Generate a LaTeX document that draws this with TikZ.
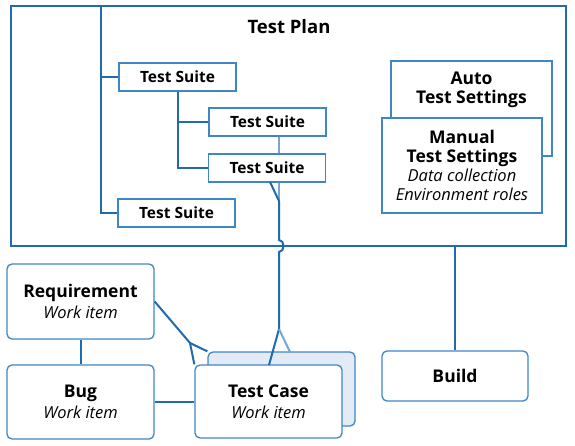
\documentclass[tikz,border=0pt]{standalone}
\usepackage{fontspec}
\setmainfont{Open Sans}
\usepackage{tikz}
\definecolor{planblue}{HTML}{1F6BAE}
\definecolor{boxblue}{HTML}{3F86C6}
\definecolor{faintblue}{HTML}{74A6D6}
\definecolor{shadowfill}{HTML}{E3EBF6}

\begin{document}
\begin{tikzpicture}[x=1pt,y=-1pt,
	planbox/.style={draw=planblue, line width=2.5pt, minimum width=555, minimum height=240},
	suitebox/.style={align=center, draw=boxblue, line width=1.3pt, fill=white, minimum width=117, minimum height=28, font=\fontsize{15.5}{18}\selectfont\bfseries},
	setbox/.style={align=center, draw=boxblue, line width=1.3pt, fill=white, minimum width=160, minimum height=95, font=\fontsize{17.5}{19}\selectfont},
	itembox/.style={align=center, draw=boxblue, line width=1.3pt, fill=white, rounded corners=5pt, minimum width=147, minimum height=74, font=\fontsize{17.5}{21}\selectfont},
	link/.style={draw=planblue, line width=2pt},
	faint/.style={draw=faintblue, line width=2pt},
	]
	\useasboundingbox (0,0) rectangle (575,446);
	% test plan
	\node[planbox] at (288.5, 126) (plan) {};
	\node[font=\fontsize{18.5}{21}\selectfont\bfseries] at (289, 27) (plantitle) {Test Plan};
	\node[suitebox] at (177.5, 77) (suiteA) {Test Suite};
	\node[suitebox] at (267.5, 122) (suiteB) {Test Suite};
	\node[suitebox] at (267, 168) (suiteC) {Test Suite};
	\node[suitebox] at (176.5, 213) (suiteD) {Test Suite};
	\node[setbox, minimum width=161] at (471.5, 108.5) (auto) {};
	\node[align=center, font=\fontsize{17.5}{19}\selectfont\bfseries] at (471.5, 89.5) (autotext) {Auto\\Test Settings};
	\node[setbox] at (462, 165.5) (manual) {{\bfseries Manual}\\{\bfseries Test Settings}\\{\fontsize{16.5}{19}\selectfont\itshape Data collection}\\{\fontsize{16.5}{19}\selectfont\itshape Environment roles}};
	% work items
	\node[itembox, minimum height=75] at (80.5, 301.5) (req) {{\bfseries Requirement}\\{\fontsize{16.5}{21}\selectfont\itshape Work item}};
	\node[itembox] at (80.5, 402) (bug) {{\bfseries Bug}\\{\fontsize{16.5}{21}\selectfont\itshape Work item}};
	\node[itembox, fill=shadowfill] at (281.5, 389) (shadow) {};
	\node[itembox, minimum height=73] at (268.5, 401.5) (tcase) {{\bfseries Test Case}\\{\fontsize{16.5}{21}\selectfont\itshape Work item}};
	\node[itembox, minimum width=146, minimum height=50] at (455, 376) (build) {\bfseries Build};
	% connectors
	\coordinate (trunk) at (101, 6);
	\coordinate (forkA) at (279, 201);
	\coordinate (forkB) at (279, 329);
	\coordinate (forkC) at (190, 343);
	\coordinate (hopA) at (279, 240);
	\coordinate (hopB) at (279, 252);
	\coordinate (footA) at (270, 182);
	\coordinate (footB) at (269, 365);
	\coordinate (footC) at (290, 352);
	\draw[link] (trunk) |- (suiteD.west);
	\draw[link] (trunk |- suiteA.west) -- (suiteA.west);
	\draw[link] (suiteA.south) |- (suiteC.west);
	\draw[link] (suiteA.south |- suiteB.west) -- (suiteB.west);
	\draw[faint] (suiteB.south -| forkA) -- (suiteC.north -| forkA);
	\draw[faint] (suiteC.south -| forkA) -- (forkA);
	\draw[link] (footA) -- (forkA);
	\draw[link] (forkA) -- (hopA) .. controls (285, 240) and (285, 252) .. (hopB) -- (forkB);
	\draw[link] (forkB) -- (footB);
	\draw[faint] (forkB) -- (footC);
	\draw[link] (req.east) -- (forkC);
	\draw[link] (forkC) -- (tcase.north west);
	\draw[link] (forkC) -- (shadow.north west);
	\draw[link] (req) -- (bug);
	\draw[link] (bug.east) -- (bug.east -| tcase.west);
	\draw[link] (plan.south -| build) -- (build);
\end{tikzpicture}
\end{document}
